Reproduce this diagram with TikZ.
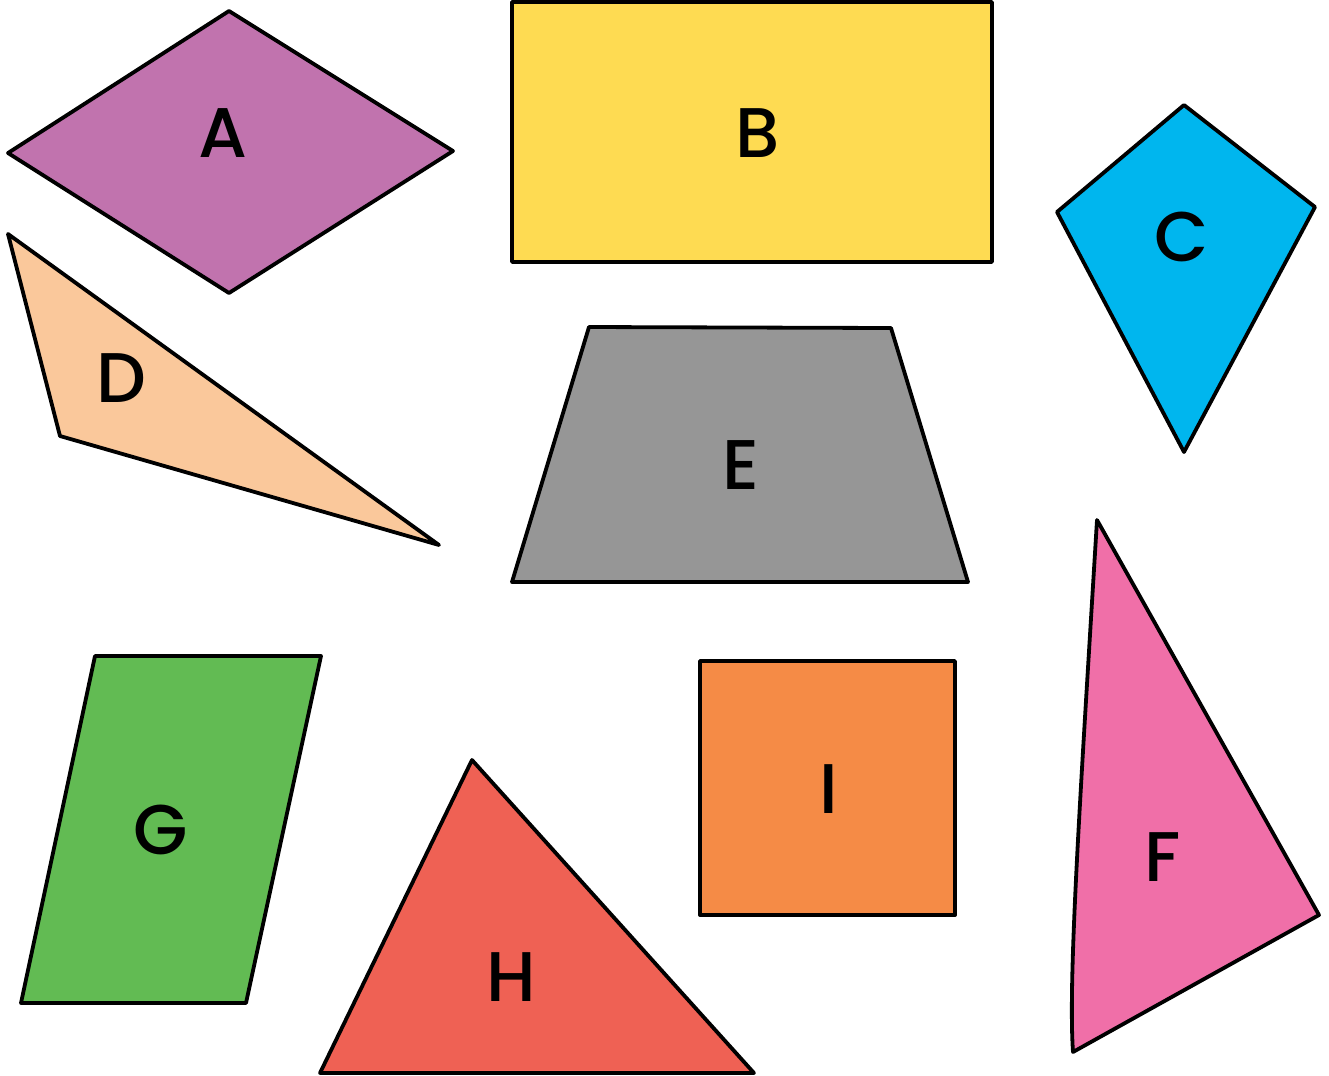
\documentclass[tikz,border=0pt]{standalone}
\usepackage{fontspec}
\setmainfont{Poppins}[UprightFont=* Medium]
\definecolor{cA}{HTML}{C173AE}
\definecolor{cB}{HTML}{FEDB52}
\definecolor{cC}{HTML}{00B6EE}
\definecolor{cD}{HTML}{FAC89B}
\definecolor{cE}{HTML}{969696}
\definecolor{cF}{HTML}{F06FA8}
\definecolor{cG}{HTML}{62BB53}
\definecolor{cH}{HTML}{EF6154}
\definecolor{cI}{HTML}{F58B46}
\begin{document}
\begin{tikzpicture}[x=0.1mm,y=-0.1mm,
  shapebox/.style={draw=black,line width=0.38mm,line join=round},
  lbl/.style={font=\fontsize{20pt}{24pt}\selectfont,inner sep=0pt,text=black}]
\useasboundingbox (0,0) rectangle (1329,1075);
% A
\filldraw[shapebox,fill=cA] (8,153) -- (229,11) -- (453,151) -- (229,293) -- cycle;
\node[lbl] (la) at (223,133) {A};
% B
\filldraw[shapebox,fill=cB] (512,2) rectangle (992,262);
\node[lbl] (lb) at (758,133) {B};
% C
\filldraw[shapebox,fill=cC] (1057,212) -- (1184,105) -- (1315,207) -- (1184,452) -- cycle;
\node[lbl] (lc) at (1182,237) {C};
% D
\filldraw[shapebox,fill=cD] (8,234) -- (60,436) -- (439,545) -- cycle;
\node[lbl] (ld) at (121,378) {D};
% E
\filldraw[shapebox,fill=cE] (589,327) -- (891,328) -- (968,582) -- (512,582) -- cycle;
\node[lbl] (le) at (741,465) {E};
% F
\filldraw[shapebox,fill=cF] (1097,520) -- (1319,915) -- (1073,1052) .. controls (1068,980) and (1080,800) .. cycle;
\node[lbl] (lf) at (1163,857) {F};
% G
\filldraw[shapebox,fill=cG] (95,656) -- (321,656) -- (246,1003) -- (21,1003) -- cycle;
\node[lbl] (lg) at (161,830) {G};
% H
\filldraw[shapebox,fill=cH] (472,760) -- (754,1073) -- (320,1073) -- cycle;
\node[lbl] (lh) at (511,977) {H};
% I
\filldraw[shapebox,fill=cI] (700,661) rectangle (955,915);
\node[lbl] (li) at (829,789) {I};
\end{tikzpicture}
\end{document}
